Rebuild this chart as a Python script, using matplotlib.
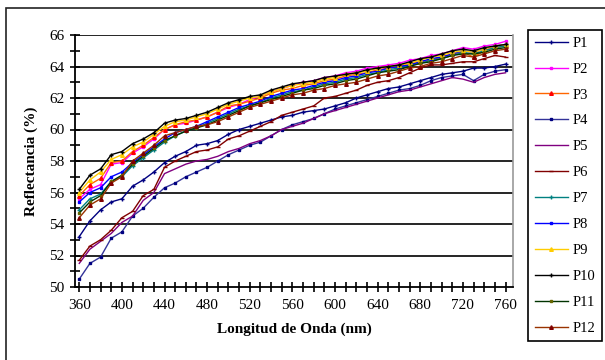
import numpy as np
import matplotlib
matplotlib.use('Agg')
import matplotlib.pyplot as plt
from matplotlib.patches import Rectangle
from matplotlib.ticker import MultipleLocator

# wavelength (nm), one reading every 10 nm
wl = list(range(360, 761, 10))

P1 = [53.2, 54.2, 54.9, 55.4, 55.6, 56.4, 56.8, 57.3, 57.9, 58.3, 58.6, 59.0, 59.1, 59.3,
      59.7, 60.0, 60.2, 60.4, 60.6, 60.8, 60.9, 61.1, 61.2, 61.3, 61.5, 61.7, 62.0, 62.2,
      62.4, 62.6, 62.7, 62.9, 63.1, 63.3, 63.5, 63.6, 63.7, 63.9, 63.9, 64.0, 64.15]
P2 = [55.6, 56.2, 56.5, 57.8, 57.9, 58.5, 58.9, 59.4, 60.0, 60.3, 60.4, 60.6, 60.8, 61.1,
      61.4, 61.6, 61.9, 62.1, 62.4, 62.6, 62.8, 63.0, 63.1, 63.3, 63.4, 63.6, 63.7, 63.9,
      64.0, 64.1, 64.2, 64.4, 64.5, 64.7, 64.8, 65.0, 65.2, 65.1, 65.3, 65.4, 65.6]
P3 = [55.8, 56.5, 56.9, 57.9, 58.0, 58.6, 59.0, 59.5, 60.0, 60.3, 60.5, 60.6, 60.8, 61.1,
      61.5, 61.6, 61.8, 62.0, 62.3, 62.5, 62.6, 62.8, 62.9, 63.1, 63.2, 63.4, 63.5, 63.6,
      63.8, 63.9, 64.0, 64.2, 64.3, 64.4, 64.6, 64.8, 64.9, 64.6, 65.0, 65.2, 65.3]
P4 = [50.5, 51.5, 51.9, 53.1, 53.5, 54.5, 55.0, 55.7, 56.3, 56.6, 57.0, 57.3, 57.6, 58.0,
      58.4, 58.7, 59.0, 59.2, 59.6, 60.0, 60.3, 60.5, 60.7, 61.0, 61.3, 61.5, 61.7, 61.9,
      62.1, 62.3, 62.5, 62.6, 62.8, 63.1, 63.3, 63.4, 63.5, 63.1, 63.5, 63.7, 63.8]
P5 = [51.5, 52.4, 52.9, 53.4, 54.1, 54.5, 55.5, 56.0, 57.2, 57.5, 57.8, 58.0, 58.1, 58.3,
      58.6, 58.8, 59.1, 59.3, 59.6, 60.0, 60.2, 60.4, 60.7, 61.0, 61.2, 61.4, 61.6, 61.8,
      62.0, 62.2, 62.4, 62.5, 62.7, 62.9, 63.1, 63.3, 63.2, 63.0, 63.3, 63.5, 63.6]
P6 = [51.7, 52.6, 53.0, 53.6, 54.4, 54.8, 55.8, 56.2, 57.6, 58.0, 58.3, 58.6, 58.7, 58.9,
      59.4, 59.6, 59.9, 60.2, 60.5, 60.9, 61.1, 61.3, 61.5, 62.0, 62.1, 62.3, 62.5, 62.8,
      63.0, 63.1, 63.3, 63.6, 63.9, 64.1, 64.1, 64.2, 64.3, 64.3, 64.5, 64.7, 64.6]
P7 = [54.9, 55.6, 55.9, 56.7, 57.0, 57.7, 58.2, 58.7, 59.2, 59.6, 59.9, 60.1, 60.4, 60.7,
      61.0, 61.3, 61.5, 61.7, 62.0, 62.2, 62.4, 62.5, 62.7, 62.9, 63.0, 63.2, 63.3, 63.5,
      63.6, 63.8, 63.9, 64.1, 64.2, 64.4, 64.5, 64.7, 64.9, 64.8, 65.0, 65.2, 65.3]
P8 = [55.4, 56.0, 56.3, 57.0, 57.3, 57.9, 58.4, 58.9, 59.4, 59.8, 60.0, 60.2, 60.5, 60.8,
      61.1, 61.4, 61.6, 61.8, 62.1, 62.3, 62.5, 62.6, 62.8, 63.0, 63.1, 63.3, 63.4, 63.6,
      63.7, 63.9, 64.0, 64.1, 64.3, 64.5, 64.6, 64.8, 65.0, 64.9, 65.1, 65.3, 65.4]
P9 = [56.0, 56.8, 57.3, 58.1, 58.4, 58.9, 59.2, 59.7, 60.2, 60.5, 60.6, 60.8, 61.0, 61.3,
      61.6, 61.8, 62.0, 62.1, 62.4, 62.6, 62.8, 62.9, 63.0, 63.2, 63.3, 63.5, 63.6, 63.7,
      63.9, 64.0, 64.1, 64.2, 64.4, 64.6, 64.7, 64.9, 65.0, 64.9, 65.1, 65.3, 65.4]
P10 = [56.2, 57.1, 57.5, 58.4, 58.6, 59.1, 59.4, 59.8, 60.4, 60.6, 60.7, 60.9, 61.1, 61.4,
       61.7, 61.9, 62.1, 62.2, 62.5, 62.7, 62.9, 63.0, 63.1, 63.3, 63.4, 63.5, 63.6, 63.8,
       63.9, 64.0, 64.1, 64.3, 64.5, 64.6, 64.8, 65.0, 65.1, 65.0, 65.2, 65.3, 65.4]
P11 = [54.7, 55.4, 55.8, 56.7, 57.1, 57.8, 58.3, 58.8, 59.3, 59.6, 59.9, 60.1, 60.3, 60.6,
       60.9, 61.2, 61.5, 61.7, 61.9, 62.1, 62.3, 62.5, 62.6, 62.8, 62.9, 63.1, 63.2, 63.4,
       63.6, 63.7, 63.8, 64.0, 64.2, 64.3, 64.5, 64.7, 64.8, 64.8, 64.9, 65.1, 65.2]
P12 = [54.4, 55.2, 55.6, 56.6, 57.0, 58.0, 58.5, 59.0, 59.6, 59.8, 60.0, 60.2, 60.3, 60.5,
       60.8, 61.1, 61.4, 61.6, 61.8, 62.0, 62.2, 62.3, 62.5, 62.6, 62.8, 62.9, 63.0, 63.2,
       63.4, 63.5, 63.7, 63.9, 64.0, 64.2, 64.3, 64.5, 64.7, 64.6, 64.8, 65.0, 65.1]

names = ['P1', 'P2', 'P3', 'P4', 'P5', 'P6', 'P7', 'P8', 'P9', 'P10', 'P11', 'P12']
series = [P1, P2, P3, P4, P5, P6, P7, P8, P9, P10, P11, P12]

# (line colour, marker, marker colour)
styles = [('#000080', '+', '#000080'),
          ('#FF00FF', 's', '#FF00FF'),
          ('#FF6600', '^', '#FF0000'),
          ('#333399', 's', '#000080'),
          ('#800080', '', '#800080'),
          ('#800000', '_', '#800000'),
          ('#008080', '+', '#008080'),
          ('#0000FF', 's', '#0000FF'),
          ('#FFCC00', '^', '#FFCC00'),
          ('#000000', '+', '#000000'),
          ('#003300', 's', '#666600'),
          ('#993300', '^', '#800000')]

msize = {'+': 3.5, '_': 3.0, 's': 1.8, '^': 2.6}

serif = ['Liberation Serif', 'DejaVu Serif']
plt.rcParams['font.family'] = serif

fig = plt.figure(figsize=(6.05, 3.6), dpi=100)

# outer chart border
fig.patches.append(Rectangle((6/605, -0.02), 1.0, 1 - 8/360 + 0.02, transform=fig.transFigure,
                             fill=False, edgecolor='#222222', linewidth=1.2))

ax = fig.add_axes([75/605, 1 - 287/360, 438/605, 252/360])

for y in range(52, 67, 2):
    ax.axhline(y, color='black', linewidth=1.2, zorder=1)

for name, vals, (lc, mk, mc) in zip(names, series, styles):
    ax.plot(wl, vals, color=lc, linewidth=1.0, marker=mk if mk else None,
            markersize=msize.get(mk, 2),
            markerfacecolor=mc, markeredgecolor=mc, markeredgewidth=1.0,
            label=name, zorder=3)

ax.set_xlim(356, 767)
ax.set_ylim(50, 66)
ax.xaxis.set_major_locator(MultipleLocator(40))
ax.xaxis.set_minor_locator(MultipleLocator(10))
ax.yaxis.set_major_locator(MultipleLocator(2))
ax.yaxis.set_minor_locator(MultipleLocator(1))
ax.tick_params(which='both', direction='inout', length=7, width=1.2, color='black',
               labelsize=11, pad=4)
ax.tick_params(axis='x', pad=5)

for s in ['left', 'bottom']:
    ax.spines[s].set_linewidth(1.3)
    ax.spines[s].set_color('black')
ax.spines['top'].set_visible(False)
ax.spines['right'].set_color('#999999')
ax.spines['right'].set_linewidth(1.2)

ax.set_xlabel('Longitud de Onda (nm)', fontsize=11, fontweight='bold', labelpad=8)
ax.set_ylabel('Reflectancia (%)', fontsize=11, fontweight='bold', labelpad=8)

leg = fig.legend(loc='upper left', bbox_to_anchor=(528/605, 1 - 30/360),
                 fontsize=10.5, handlelength=2.3, labelspacing=0.87, borderpad=0.45,
                 borderaxespad=0, handletextpad=0.3, fancybox=False,
                 edgecolor='black', framealpha=1)
leg.get_frame().set_linewidth(1.2)

plt.savefig('out.png', dpi=100)
plt.close(fig)
